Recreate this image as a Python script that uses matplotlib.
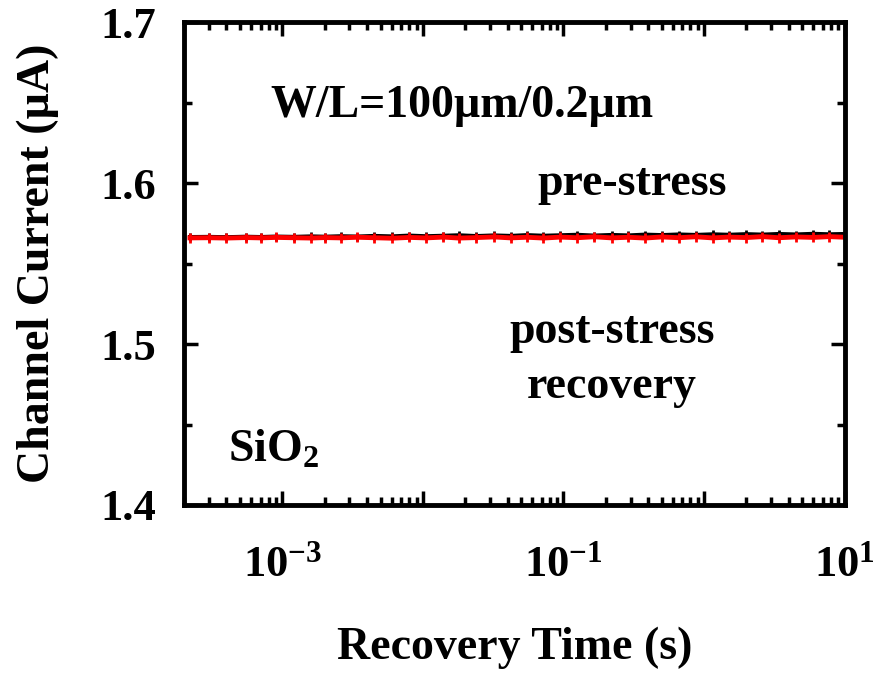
import math
import matplotlib.pyplot as plt
import matplotlib.ticker as tkr

plt.rcParams['font.family'] = ['Liberation Serif', 'DejaVu Serif']
plt.rcParams['font.weight'] = 'bold'
plt.rcParams['axes.labelweight'] = 'bold'
plt.rcParams['mathtext.fontset'] = 'custom'
plt.rcParams['mathtext.rm'] = 'Liberation Serif:bold'
plt.rcParams['mathtext.it'] = 'Liberation Serif:bold'
plt.rcParams['mathtext.bf'] = 'Liberation Serif:bold'

# recovery time (s)
t = [2.2e-4, 3e-4, 4e-4, 5.5e-4, 7e-4, 9e-4, 1.2e-3, 1.6e-3, 2e-3, 2.6e-3,
     3.4e-3, 4.5e-3, 6e-3, 8e-3, 1.05e-2, 1.4e-2, 1.8e-2, 2.4e-2, 3.2e-2,
     4.2e-2, 5.5e-2, 7.2e-2, 9.5e-2, 0.125, 0.165, 0.22, 0.29, 0.38, 0.5,
     0.66, 0.87, 1.15, 1.5, 2.0, 2.6, 3.4, 4.5, 6.0, 7.8, 10.0]
# pre-stress current (uA)
pre = [1.5665, 1.5666, 1.5664, 1.5667, 1.5665, 1.5668, 1.5666, 1.5669, 1.5667, 1.5670,
       1.5668, 1.5672, 1.5669, 1.5674, 1.5670, 1.5673, 1.5676, 1.5671, 1.5675, 1.5672,
       1.5677, 1.5673, 1.5676, 1.5679, 1.5674, 1.5678, 1.5675, 1.5680, 1.5677, 1.5681,
       1.5678, 1.5682, 1.5679, 1.5683, 1.5680, 1.5684, 1.5681, 1.5685, 1.5682, 1.5684]
# post-stress recovery current (uA)
post = [1.5660, 1.5661, 1.5659, 1.5662, 1.5660, 1.5663, 1.5661, 1.5659, 1.5662, 1.5660,
        1.5664, 1.5661, 1.5658, 1.5663, 1.5660, 1.5665, 1.5659, 1.5662, 1.5666, 1.5660,
        1.5664, 1.5659, 1.5665, 1.5661, 1.5667, 1.5660, 1.5664, 1.5659, 1.5666, 1.5661,
        1.5667, 1.5660, 1.5665, 1.5662, 1.5668, 1.5661, 1.5666, 1.5663, 1.5668, 1.5664]


def dec_label(x, p):
    e = round(math.log10(x))
    return r'$10^{%d}$' % e if e % 2 == 1 else ''


fig = plt.figure(figsize=(8.77, 6.76), dpi=100)
ax = fig.add_axes([0.21, 0.253, 0.753, 0.714])

ax.plot(t, pre, color='black', lw=3, marker='|', ms=6, mew=2)
ax.plot(t, post, color='red', lw=3.5, marker='|', ms=7, mew=2)

ax.set_xscale('log')
ax.set_xlim(2e-4, 10)
ax.set_ylim(1.4, 1.7)

ax.xaxis.set_major_locator(tkr.LogLocator(base=10, numticks=20))
ax.xaxis.set_minor_locator(tkr.LogLocator(base=10, subs=range(2, 10), numticks=20))
ax.xaxis.set_major_formatter(tkr.FuncFormatter(dec_label))
ax.xaxis.set_minor_formatter(tkr.NullFormatter())
ax.yaxis.set_major_locator(tkr.MultipleLocator(0.1))
ax.yaxis.set_minor_locator(tkr.MultipleLocator(0.05))
ax.yaxis.set_major_formatter(tkr.FormatStrFormatter('%.1f'))

for s in ax.spines.values():
    s.set_linewidth(3.5)
ax.tick_params(which='both', direction='in', top=True, right=True, width=2.5)
ax.tick_params(which='major', length=10, labelsize=32)
ax.tick_params(axis='y', which='major', pad=20)
ax.tick_params(axis='x', which='major', pad=29)
ax.tick_params(which='minor', length=6)

ax.set_xlabel('Recovery Time (s)', fontsize=33, labelpad=30)
ax.set_ylabel('Channel Current (\u00b5A)', fontsize=33, labelpad=30)

fs = 33
ax.text(0.130, 0.803, 'W/L=100\u00b5m/0.2\u00b5m', transform=ax.transAxes, fontsize=fs, va='baseline')
ax.text(0.678, 0.642, 'pre-stress', transform=ax.transAxes, fontsize=fs, ha='center', va='baseline')
ax.text(0.648, 0.335, 'post-stress', transform=ax.transAxes, fontsize=fs, ha='center', va='baseline')
ax.text(0.648, 0.2215, 'recovery', transform=ax.transAxes, fontsize=fs, ha='center', va='baseline')
ax.text(0.0666, 0.089, 'SiO$_2$', transform=ax.transAxes, fontsize=fs, va='baseline')

fig.savefig('out.png', dpi=100)
